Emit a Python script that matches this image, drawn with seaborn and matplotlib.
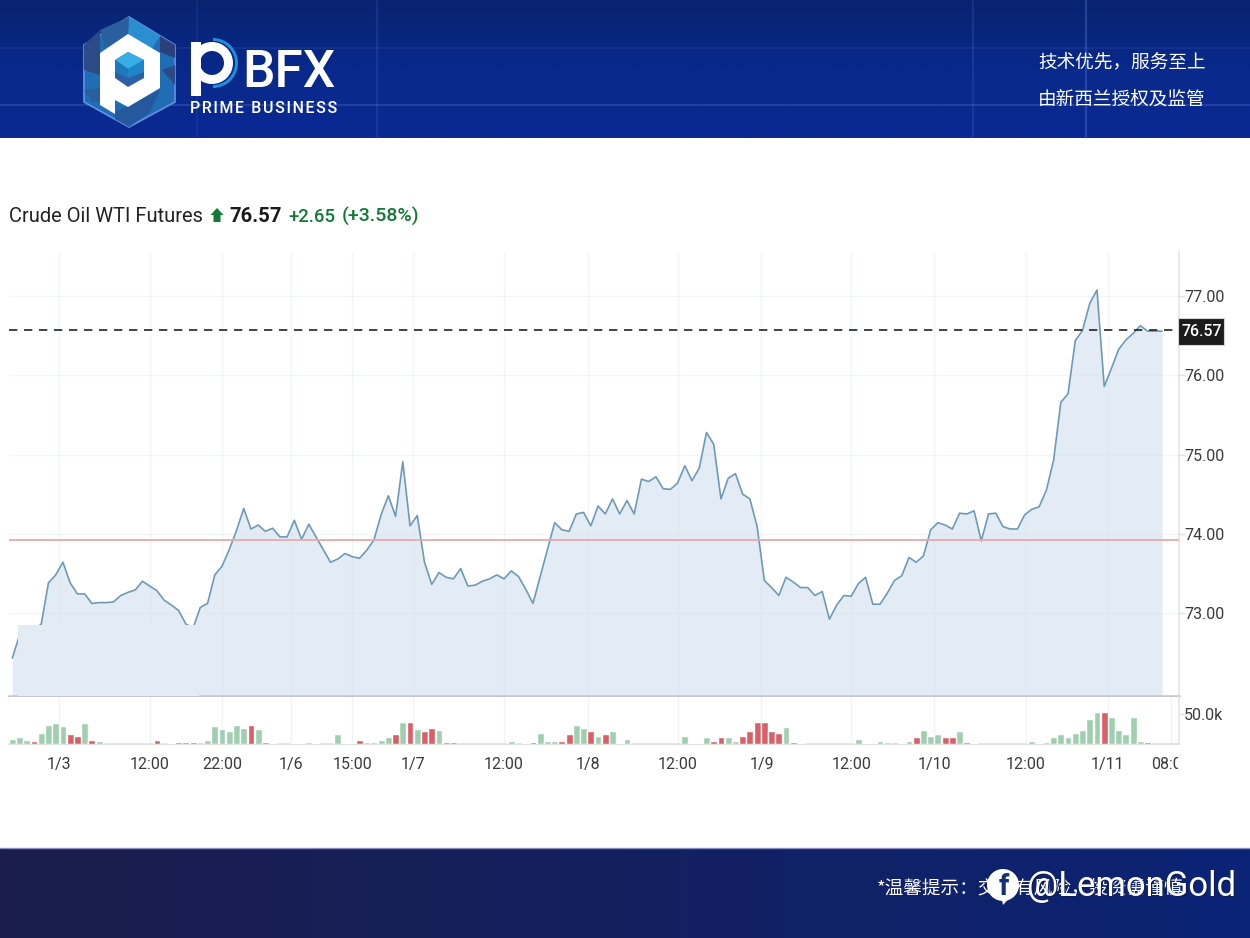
import numpy as np
import matplotlib
matplotlib.use('Agg')
import matplotlib.pyplot as plt
import seaborn as sns
from matplotlib.colors import LinearSegmentedColormap
from matplotlib.patches import Polygon, Rectangle, Circle, Wedge
from matplotlib.transforms import Bbox

# Crude oil prices, one point per bar
prices = [
    72.43, 72.72, 72.78, 72.78, 72.86, 73.38, 73.48, 73.64, 73.38, 73.24,
    73.24, 73.12, 73.13, 73.13, 73.14, 73.22, 73.26, 73.29, 73.40, 73.34,
    73.28, 73.16, 73.10, 73.03, 72.86, 72.81, 73.07, 73.12, 73.48, 73.59,
    73.80, 74.04, 74.32, 74.06, 74.11, 74.03, 74.07, 73.96, 73.96, 74.17,
    73.93, 74.12, 73.96, 73.80, 73.64, 73.68, 73.75, 73.71, 73.69, 73.79,
    73.92, 74.24, 74.48, 74.22, 74.91, 74.10, 74.23, 73.64, 73.36, 73.51,
    73.45, 73.43, 73.56, 73.34, 73.35, 73.40, 73.43, 73.48, 73.43, 73.53,
    73.46, 73.30, 73.12, 73.46, 73.80, 74.14, 74.05, 74.03, 74.25, 74.27,
    74.10, 74.35, 74.25, 74.44, 74.25, 74.42, 74.25, 74.69, 74.66, 74.72,
    74.57, 74.56, 74.64, 74.86, 74.67, 74.83, 75.28, 75.13, 74.44, 74.70,
    74.76, 74.50, 74.44, 74.09, 73.41, 73.32, 73.22, 73.45, 73.39, 73.32,
    73.32, 73.22, 73.27, 72.92, 73.10, 73.22, 73.21, 73.37, 73.45, 73.11,
    73.11, 73.25, 73.41, 73.47, 73.70, 73.64, 73.72, 74.05, 74.14, 74.11,
    74.06, 74.26, 74.25, 74.29, 73.91, 74.25, 74.26, 74.09, 74.06, 74.06,
    74.24, 74.31, 74.34, 74.55, 74.93, 75.66, 75.77, 76.44, 76.57, 76.91,
    77.08, 75.86, 76.09, 76.33, 76.45, 76.53, 76.63, 76.56, 76.56, 76.56,
]

# Volume in thousands
volume = [
    8.9, 11.7, 6.7, 4.4, 18.9, 31.6, 34.4, 29.4, 16.7, 13.9,
    34.4, 6.7, 4.4, 0, 0, 0, 0, 0, 0, 0,
    6.7, 0, 1.1, 3.9, 3.9, 3.9, 3.9, 6.7, 29.4, 24.4,
    21.6, 31.6, 26.6, 31.6, 24.4, 3.9, 1.1, 0, 0, 1.1,
    1.7, 3.3, 1.7, 0, 0, 16.7, 1.1, 1.7, 6.7, 3.9,
    3.9, 6.7, 11.7, 16.7, 36.6, 36.6, 24.4, 21.1, 26.1, 23.3,
    3.3, 3.3, 0, 0, 0, 0, 0, 0, 0, 5.5,
    0, 1.1, 3.9, 18.9, 5.5, 5.5, 5.5, 16.1, 31.1, 26.1,
    21.1, 13.3, 16.1, 21.1, 1.1, 8.3, 0, 0, 0, 0,
    0, 0, 0, 13.3, 1.1, 1.1, 11.1, 5.5, 11.1, 11.1,
    5.5, 13.3, 21.1, 36.1, 36.1, 21.1, 18.3, 28.9, 3.3, 1.1,
    0, 0, 0, 0, 0, 0, 0, 8.3, 1.1, 1.7,
    5.5, 3.3, 3.3, 1.1, 5.5, 11.1, 23.3, 13.3, 16.1, 11.1,
    11.1, 21.1, 3.3, 1.1, 0, 0, 0, 0, 0, 0,
    0, 5.5, 1.1, 3.3, 11.1, 16.1, 11.1, 18.9, 23.3, 41.1,
    53.3, 53.3, 45.5, 23.3, 16.1, 45.5, 5.5, 3.3, 0, 0,
]
# bars drawn in red
down_bars = [3, 8, 9, 11, 20, 22, 23, 24, 25, 33, 35, 42, 48, 53, 55, 57, 58,
             60, 61, 71, 72, 76, 77, 80, 82, 97, 98, 101, 102, 103, 104, 105,
             106, 108, 119, 125, 129, 130, 132, 151, 157]

time_labels = ['1/3', '12:00', '22:00', '1/6', '15:00', '1/7', '12:00', '1/8',
               '12:00', '1/9', '12:00', '1/10', '12:00', '1/11', '08:00']
time_ticks = [6.5, 19, 29, 38.5, 47, 55.4, 68, 79.6, 92, 103.6, 116, 127.5, 140.2, 151.5, 160.2]
price_ticks = [73, 74, 75, 76, 77]
last_price = 76.57
prev_close = 73.92

W, H = 1250, 938
sns.set_theme(style='white')
plt.rcParams['font.family'] = ['Roboto', 'Noto Sans CJK SC', 'DejaVu Sans']
CJK = ['Noto Sans CJK SC', 'DejaVu Sans']

fig = plt.figure(figsize=(W / 100, H / 100), dpi=100, facecolor='white')


def px_axes(x0, y0, x1, y1, **kw):
    # axes placed from pixel edges, y measured from the top
    return fig.add_axes([x0 / W, 1 - y1 / H, (x1 - x0) / W, (y1 - y0) / H], **kw)


idx = np.arange(len(prices))
xlim = (-0.46, 161.3)
LINE = '#6f9ab3'
FILL = '#e3ecf4'
GRID = '#f1f3f5'
TXT = '#3a3a3a'

# price panel
ax = px_axes(9, 252, 1178.7, 696)
ax.fill_between(idx, prices, 70, color=FILL, lw=0, zorder=1)
ax.add_patch(Rectangle((0.8, 70), 25, 72.85 - 70, color=FILL, lw=0, zorder=3.5))
sns.lineplot(x=idx, y=prices, ax=ax, color=LINE, lw=1.2, zorder=3, errorbar=None)
ax.axhline(prev_close, color='#e8a9ac', lw=1.3, zorder=4)
ax.axhline(last_price, color='#222222', lw=1.2, dashes=(5, 4), zorder=5)
ax.set_xlim(xlim)
ax.set_ylim(71.95, 77.56)
ax.set_xticks(time_ticks[:-1])
ax.set_yticks(price_ticks)
ax.set_yticklabels([f'{p:.2f}' for p in price_ticks])
ax.yaxis.tick_right()
ax.tick_params(axis='x', length=0, labelbottom=False)
ax.tick_params(axis='y', length=4, width=1, color='#e0e0e0', labelsize=11.5, labelcolor=TXT, pad=0)
ax.grid(True, color='#d5dde4', alpha=0.28, lw=1, zorder=2)
ax.set_axisbelow(False)
for s in ['top', 'left']:
    ax.spines[s].set_visible(False)
ax.spines['right'].set_color('#e6e6e6')
ax.spines['bottom'].set_color('#c3c8cc')
ax.spines['bottom'].set_linewidth(1.8)

# volume panel
vax = px_axes(9, 697, 1178.7, 744)
direction = ['down' if i in down_bars else 'up' for i in idx]
sns.barplot(x=idx, y=np.array(volume) * 1000, hue=direction, native_scale=True, dodge=False,
            palette={'up': '#a0cfb0', 'down': '#d95f69'}, saturation=1, width=0.95,
            legend=False, ax=vax, zorder=3)
vax.set_xlim(xlim)
vax.set_ylim(0, 78300)
vax.set_xticks(time_ticks)
vax.set_xticklabels(time_labels)
vax.set_yticks([50000])
vax.set_yticklabels(['50.0k'])
vax.yaxis.tick_right()
vax.set_xlabel('')
vax.set_ylabel('')
vax.tick_params(axis='x', length=6, width=1, color='#e6e6e6', labelsize=11.5, labelcolor=TXT, pad=3)
vax.tick_params(axis='y', length=4, width=1, color='#e0e0e0', labelsize=11.5, labelcolor=TXT, pad=0)
vax.grid(True, axis='x', color=GRID, lw=1, zorder=0)
vax.set_axisbelow(True)
for s in ['top', 'left']:
    vax.spines[s].set_visible(False)
vax.spines['right'].set_color('#e6e6e6')
vax.spines['bottom'].set_color('#dcdcdc')
vax.get_xticklabels()[-1].set_clip_box(Bbox.from_extents(0, 0, 1178, H))
vax.get_xticklabels()[-1].set_clip_on(True)

# overlay in pixel coordinates: banners, logo, headline, price flag
ov = px_axes(0, 0, W, H, zorder=10)
ov.patch.set_alpha(0)
ov.axis('off')

head_cmap = LinearSegmentedColormap.from_list('head', ['#08236f', '#09298c', '#092a92'])
foot_cmap = LinearSegmentedColormap.from_list('foot', ['#1b1e4c', '#14205f', '#0b2476'])
ov.imshow(np.linspace(0, 1, 64).reshape(-1, 1), extent=[0, W, 138, 0], aspect='auto', cmap=head_cmap, zorder=1)
ov.imshow(np.linspace(0, 1, 256).reshape(1, -1), extent=[0, W, 938, 849], aspect='auto', cmap=foot_cmap, zorder=1)
ov.plot([0, W], [848.5, 848.5], color='#8a8fc0', lw=1, zorder=2)
for xv, al in [(197, 0.10), (377, 0.16), (973, 0.16), (1086, 0.30)]:
    ov.plot([xv, xv], [0, 138], color='#5f8cf0', lw=1.6, alpha=al, zorder=2)
for yv, al in [(48, 0.10), (105, 0.20)]:
    ov.plot([0, W], [yv, yv], color='#7f9ff0', lw=1.4, alpha=al, zorder=2)

# logo hexagon
hex_pts = [(129, 17), (175, 45), (175, 102), (129, 127), (84, 102), (84, 45)]
ov.add_patch(Polygon(hex_pts, closed=True, fc='#1f6db5', ec='#5f8fe0', lw=1.3, zorder=3))
facets = [
    ([(129, 17), (160, 36), (150, 52), (128, 34)], '#2a8fd0'),
    ([(129, 17), (128, 34), (105, 48), (100, 30)], '#2a5f9f'),
    ([(160, 36), (175, 45), (175, 58), (160, 52)], '#2c3f7a'),
    ([(84, 45), (100, 30), (100, 75), (84, 70)], '#2c4a85'),
    ([(175, 65), (162, 70), (175, 85)], '#2c4a85'),
    ([(84, 90), (100, 88), (100, 102), (92, 102)], '#2a5f9f'),
    ([(115, 112), (160, 90), (150, 112), (129, 127), (115, 119)], '#25589c'),
]
for pts, c in facets:
    ov.add_patch(Polygon(pts, closed=True, fc=c, ec='none', zorder=4))
p_mark = [(128, 34), (160, 53), (160, 88), (128, 107), (115, 100), (115, 114), (100, 105), (100, 53)]
ov.add_patch(Polygon(p_mark, closed=True, fc='white', ec='none', zorder=5))
cube = [(128, 52), (144, 60), (144, 78), (128, 87), (115, 78), (115, 60)]
ov.add_patch(Polygon(cube, closed=True, fc='#2c5fa5', ec='none', zorder=6))
ov.add_patch(Polygon([(128, 52), (144, 60), (128, 69), (115, 60)], closed=True, fc='#38aee6', ec='none', zorder=7))
ov.add_patch(Polygon([(115, 60), (128, 69), (128, 78), (115, 72)], closed=True, fc='#1f78bb', ec='none', zorder=7))
ov.add_patch(Polygon([(144, 60), (128, 69), (128, 78), (144, 72)], closed=True, fc='#1d86c9', ec='none', zorder=7))

# "p" of PBFX
ov.add_patch(Wedge((213, 63), 25, -90, 90, width=3, fc='#1f8fdc', ec='none', zorder=4))
ov.add_patch(Wedge((212, 63), 21, 0, 360, width=9, fc='white', ec='none', zorder=5))
ov.add_patch(Rectangle((191, 42), 10, 54, fc='white', ec='none', zorder=5))
ov.text(242, 87, 'BFX', color='white', fontsize=37, fontweight='medium', ha='left', va='baseline', zorder=5)
ov.text(190, 113, '\u200a'.join('PRIME BUSINESS'), color='white', family=['Roboto', 'DejaVu Sans'], fontsize=11.4,
        fontweight='medium', ha='left', va='baseline', zorder=5)

ov.text(1038, 62.5, '技术优先，服务至上', family=CJK, color='white', fontsize=13.4, ha='left', va='center', zorder=5)
ov.text(1038, 99.5, '由新西兰授权及监管', family=CJK, color='white', fontsize=13.4, ha='left', va='center', zorder=5)

# headline
GREEN = '#0f7a34'
ov.text(9, 222, 'Crude Oil WTI Futures', color='#222222', fontsize=14.5, ha='left', va='baseline', zorder=5)
ov.add_patch(Polygon([(217, 208), (223.5, 215), (220.5, 215), (220.5, 222), (213.5, 222), (213.5, 215), (210.5, 215)],
                     closed=True, fc=GREEN, ec='none', zorder=5))
ov.text(229, 222, '76.57', color='#1a1a1a', fontsize=14.6, fontweight='bold', ha='left', va='baseline', zorder=5)
ov.text(288, 221.5, '+2.65', color=GREEN, fontsize=13.3, fontweight='medium', ha='left', va='baseline', zorder=5)
ov.text(342, 221.5, '(+3.58%)', color=GREEN, fontsize=14, fontweight='medium', ha='left', va='baseline', zorder=5)

# last price flag
ov.add_patch(Rectangle((1178, 318), 46, 27, fc='#1c1c1c', ec='#d5d5d5', lw=0.8, zorder=5))
ov.text(1202, 332, '76.57', color='white', fontsize=11.5, fontweight='medium', ha='center', va='center', zorder=6)

# footer note and the watermark printed over it
ov.text(877, 888, '*温馨提示：交易有风险，投资需谨慎', family=CJK, color='white', fontsize=13.4,
        ha='left', va='center', zorder=5)
ov.add_patch(Circle((1003, 885), 16, fc='white', ec='none', zorder=7))
ov.add_patch(Polygon([(1001, 895), (1012, 895), (1003, 905)], closed=True, fc='white', ec='none', zorder=7))
ov.text(1004, 887, 'f', color='#14307a', fontsize=21, fontweight='bold', ha='center', va='center', zorder=8)
ov.text(1028.5, 897, '@LemonGold', color='#101a50', fontsize=25, ha='left', va='baseline', zorder=7)
ov.text(1027, 896, '@LemonGold', color='white', fontsize=25, ha='left', va='baseline', zorder=8)

ov.set_xlim(0, W)
ov.set_ylim(H, 0)

fig.savefig('out.png', dpi=100)
